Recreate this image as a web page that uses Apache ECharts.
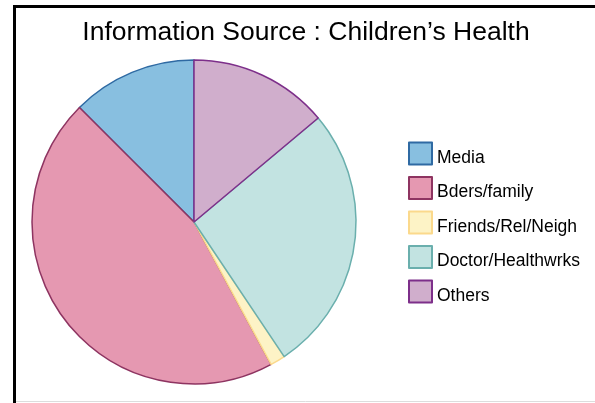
<!DOCTYPE html>
<html>
<head>
    <meta charset='utf-8'>
    <script src="https://cdn.jsdelivr.net/npm/echarts@6/dist/echarts.min.js"></script>
</head>
<body>
<style>
    html, body, #main {
        width: 100%;
        height: 100%;
        margin: 0;
        padding: 0;
        background: #fff;
    }
</style>
<div id="main"></div>
<script>
    var categories = ['Media', 'Bders/family', 'Friends/Rel/Neigh', 'Doctor/Healthwrks', 'Others'];
    var values = [12.5, 45.4, 1.5, 26.7, 13.9];
    var fills = ['#88bfe0', '#e598b1', '#fdf3c6', '#c2e3e1', '#d0aecc'];
    var borders = ['#2f6aa3', '#8e3461', '#fbd98c', '#6aafad', '#7d2f8a'];

    var chart = echarts.init(document.getElementById('main'));

    var data = [];
    for (var i = 0; i < categories.length; i++) {
        data.push({
            name: categories[i],
            value: values[i],
            itemStyle: {
                color: fills[i],
                borderColor: borders[i],
                borderWidth: 1.5
            }
        });
    }

    chart.setOption({
        animation: false,
        title: {
            text: 'Information Source : Children\u2019s Health',
            left: 301,
            textAlign: 'center',
            top: 14,
            textStyle: {
                fontFamily: 'Liberation Sans',
                fontWeight: 'normal',
                fontSize: 26.5,
                color: '#000'
            }
        },
        legend: {
            orient: 'vertical',
            left: 403,
            top: 135,
            itemWidth: 23,
            itemHeight: 22,
            itemGap: 7.5,
            icon: 'rect',
            formatter: '{t|{name}}',
            textStyle: {
                fontFamily: 'Liberation Sans',
                fontSize: 17.5,
                color: '#000',
                rich: {
                    t: {
                        fontFamily: 'Liberation Sans',
                        fontSize: 17.5,
                        color: '#000',
                        lineHeight: 20,
                        padding: [9, 0, 0, 0]
                    }
                }
            },
            data: categories
        },
        graphic: [{
            type: 'rect',
            shape: {x: 14.5, y: 6.5, width: 620, height: 420},
            style: {fill: 'none', stroke: '#000', lineWidth: 3}
        }, {
            type: 'line',
            shape: {x1: 16, y1: 401.5, x2: 595, y2: 401.5},
            style: {stroke: '#ddd', lineWidth: 1}
        }],
        series: [{
            type: 'pie',
            center: [194, 222],
            radius: 162,
            startAngle: 90,
            clockwise: false,
            label: {show: false},
            labelLine: {show: false},
            emphasis: {disabled: true},
            data: data
        }]
    });
</script>
</body>
</html>
